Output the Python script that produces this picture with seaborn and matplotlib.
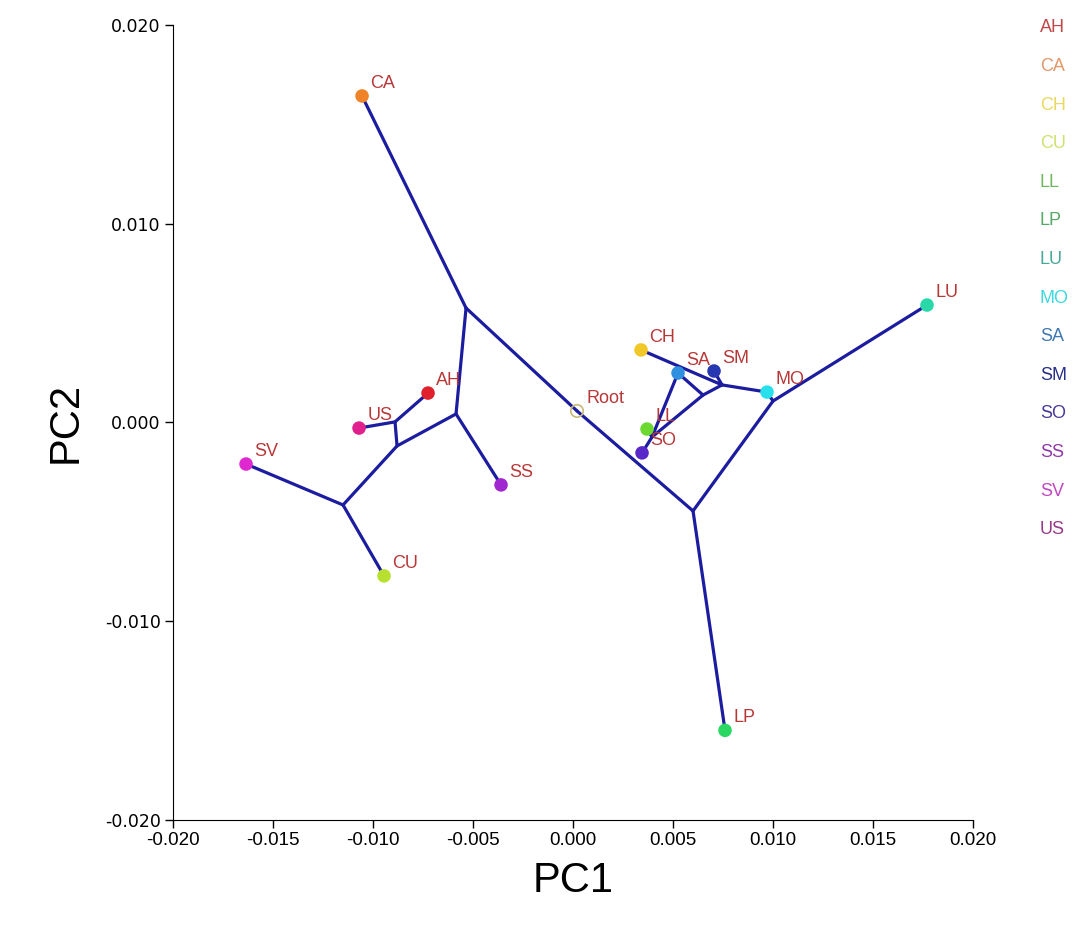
import seaborn as sns
import matplotlib
matplotlib.use("Agg")
import matplotlib.pyplot as plt
import pandas as pd

# populations (tips of the tree) and their PC coordinates
pops = ["AH", "CA", "CH", "CU", "LL", "LP", "LU", "MO", "SA", "SM", "SO", "SS", "SV", "US"]
pc1 = [-0.00725, -0.01055, 0.0034, -0.00945, 0.0037, 0.0076, 0.0177, 0.0097, 0.00525, 0.00705, 0.00345, -0.0036, -0.01635, -0.0107]
pc2 = [0.00148, 0.01643, 0.00365, -0.00772, -0.00033, -0.01549, 0.00591, 0.00153, 0.00249, 0.00259, -0.00153, -0.00314, -0.00209, -0.00028]
colors = ["#e0202c", "#f08228", "#f2c828", "#b8e030", "#6cd830", "#28d860", "#28d8a8", "#28e0ec",
          "#3090e0", "#2838b0", "#5a28c8", "#a028d0", "#e028d0", "#e0208c"]
legend_colors = ["#c04848", "#e09868", "#e8d860", "#d0e070", "#70b860", "#58a868", "#48a898", "#40d8e0",
                 "#4078b0", "#283088", "#483898", "#9038a8", "#c048c0", "#983888"]

# root and internal nodes of the tree
root = (0.0002, 0.00058)
nodes = {
    "N1": (-0.00535, 0.00576), "N2": (-0.00585, 0.00043), "N3": (-0.0088, -0.00118),
    "N4": (-0.0089, 0.00003), "N5": (-0.0115, -0.00415), "I6": (0.0060, -0.00445),
    "I5": (0.0100, 0.00108), "I1": (0.00745, 0.00189), "I2": (0.0065, 0.00138),
    "I4": (0.00395, -0.00073),
}
edges = [("CA", "N1"), ("N1", "N2"), ("N1", "Root"), ("N2", "SS"), ("N2", "N3"), ("N3", "N4"),
         ("N4", "US"), ("N4", "AH"), ("N3", "N5"), ("N5", "SV"), ("N5", "CU"),
         ("Root", "I6"), ("I6", "LP"), ("I6", "I5"), ("I5", "LU"), ("I5", "MO"), ("MO", "I1"),
         ("I1", "CH"), ("I1", "SM"), ("I1", "I2"), ("I2", "I4"), ("I2", "SA"), ("I4", "SA"),
         ("I4", "LL"), ("I4", "SO")]

df = pd.DataFrame({"pop": pops, "PC1": pc1, "PC2": pc2})
pos = {p: (x, y) for p, x, y in zip(pops, pc1, pc2)}
pos.update(nodes)
pos["Root"] = root

sns.set_style("ticks")
plt.rcParams["font.family"] = ["Liberation Sans", "DejaVu Sans"]
plt.rcParams["text.color"] = "black"
plt.rcParams["axes.labelcolor"] = "black"
plt.rcParams["xtick.color"] = "black"
plt.rcParams["ytick.color"] = "black"

fig = plt.figure(figsize=(10.89, 9.26), dpi=100)
ax = fig.add_axes([0.1589, 0.1145, 0.7346, 0.8585])

# tree branches
for a, b in edges:
    ax.plot([pos[a][0], pos[b][0]], [pos[a][1], pos[b][1]], color="#1c1ca0", lw=2.3, zorder=1,
            solid_capstyle="round")

sns.scatterplot(data=df, x="PC1", y="PC2", hue="pop", palette=dict(zip(pops, colors)),
                s=95, edgecolor="none", legend=False, zorder=3, ax=ax)
ax.scatter([root[0]], [root[1]], s=80, facecolor="none", edgecolor="#c8b878", lw=1.2, zorder=3)

# point labels
for p, x, y in zip(pops, pc1, pc2):
    ax.annotate(p, (x, y), xytext=(6, 3), textcoords="offset points", fontsize=13,
                color="#b83838", va="bottom", ha="left", zorder=4)
ax.annotate("Root", root, xytext=(7, 3), textcoords="offset points", fontsize=13,
            color="#b83838", va="bottom", ha="left", zorder=4)

# legend as coloured text
for i, (p, c) in enumerate(zip(pops, legend_colors)):
    fig.text(0.955, 0.970 - i * 0.0417, p, color=c, fontsize=13, ha="left", va="center")

ax.set_xlim(-0.020, 0.020)
ax.set_ylim(-0.020, 0.020)
ax.set_xticks([-0.020, -0.015, -0.010, -0.005, 0.000, 0.005, 0.010, 0.015, 0.020])
ax.set_yticks([-0.020, -0.010, 0.000, 0.010, 0.020])
ax.set_xticklabels(["{:.3f}".format(v) for v in ax.get_xticks()], fontsize=13.5)
ax.set_yticklabels(["{:.3f}".format(v) for v in ax.get_yticks()], fontsize=12.5, family="DejaVu Sans")
ax.tick_params(direction="out", length=6, width=1, color="black", pad=3)
ax.set_xlabel("PC1", fontsize=30, labelpad=8)
ax.set_ylabel("PC2", fontsize=30, labelpad=14)
sns.despine(ax=ax)
ax.spines["left"].set_color("black")
ax.spines["bottom"].set_color("black")

plt.savefig("out.png", dpi=100)
